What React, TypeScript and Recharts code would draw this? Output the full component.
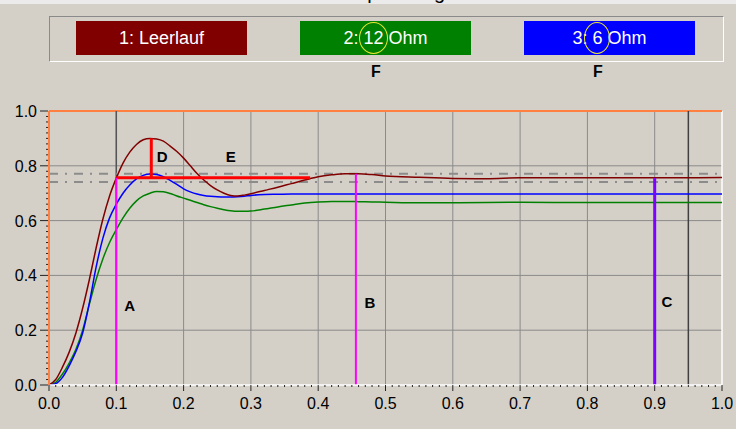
import { LineChart, Line, XAxis, YAxis, CartesianGrid, ReferenceLine, ReferenceDot } from "recharts";

// Zeitachse (s) und Sprungantworten
const time = [
  0, 0.01, 0.02, 0.03, 0.04, 0.05, 0.06, 0.07, 0.08, 0.09, 0.1, 0.11, 0.12, 0.13, 0.14, 0.15, 0.16, 0.17, 0.18, 0.19,
  0.2, 0.21, 0.22, 0.23, 0.24, 0.25, 0.26, 0.27, 0.28, 0.29, 0.3, 0.32, 0.34, 0.36, 0.38, 0.4, 0.42, 0.44, 0.46, 0.48,
  0.5, 0.55, 0.6, 0.65, 0.7, 0.8, 0.9, 1.0,
];
const leerlauf = [
  0, 0.02, 0.065, 0.12, 0.19, 0.28, 0.385, 0.5, 0.605, 0.69, 0.755, 0.81, 0.85, 0.878, 0.895, 0.9, 0.898, 0.89, 0.872, 0.852,
  0.828, 0.8, 0.772, 0.748, 0.728, 0.712, 0.7, 0.692, 0.69, 0.693, 0.698, 0.71, 0.722, 0.735, 0.748, 0.76, 0.767, 0.771, 0.771, 0.768,
  0.763, 0.758, 0.754, 0.753, 0.756, 0.756, 0.756, 0.757,
];
const ohm12 = [
  0, 0.01, 0.04, 0.08, 0.13, 0.2, 0.295, 0.385, 0.46, 0.52, 0.567, 0.61, 0.645, 0.672, 0.69, 0.7, 0.706, 0.705, 0.699, 0.69,
  0.682, 0.674, 0.666, 0.658, 0.651, 0.645, 0.64, 0.636, 0.634, 0.634, 0.635, 0.642, 0.65, 0.657, 0.664, 0.668, 0.67, 0.67, 0.669, 0.668,
  0.667, 0.665, 0.665, 0.666, 0.667, 0.666, 0.666, 0.666,
];
const ohm6 = [
  0, 0.005, 0.028, 0.07, 0.122, 0.19, 0.3, 0.43, 0.535, 0.61, 0.66, 0.7, 0.73, 0.752, 0.765, 0.77, 0.768, 0.76, 0.747, 0.732,
  0.716, 0.705, 0.697, 0.692, 0.689, 0.687, 0.686, 0.686, 0.687, 0.689, 0.692, 0.695, 0.696, 0.697, 0.697, 0.697, 0.697, 0.697, 0.697, 0.697,
  0.697, 0.697, 0.697, 0.697, 0.697, 0.697, 0.697, 0.697,
];

const xGrid = [0.1, 0.2, 0.3, 0.4, 0.5, 0.6, 0.7, 0.8, 0.9];
const yGrid = [0.2, 0.4, 0.6, 0.8];
const xTicks = Array.from({ length: 101 }, (_, i) => i / 100);
const yTicks = Array.from({ length: 51 }, (_, i) => i / 50);

// Messmarken
const steady = 0.756;
const band = [0.771, 0.741];
const peakX = 0.152;
const peakY = 0.9;
const settleEndX = 0.388;
const cursorA = 0.1;
const cursorB = 0.456;
const cursorBTop = 0.771;
const cursorC = 0.9;
const darkCursor = 0.95;
const markLabels = [
  { text: "A", x: 0.12, y: 0.29 },
  { text: "B", x: 0.477, y: 0.3 },
  { text: "C", x: 0.918, y: 0.303 },
  { text: "D", x: 0.168, y: 0.835 },
  { text: "E", x: 0.27, y: 0.832 },
];

const BG = "#d4d0c8";
const FONT = "'Liberation Sans', Arial, sans-serif";

const data = time.map((t, i) => ({ t, r: leerlauf[i], g: ohm12[i], b: ohm6[i] }));

const XTick = (props: any) => {
  const { x, y, payload } = props;
  const v = payload.value;
  const major = Math.round(v * 100) % 10 === 0;
  return (
    <g>
      <line x1={x} x2={x} y1={y} y2={y + (major ? 6 : 2)} stroke="#222" />
      {major && (
        <text x={x} y={y + 24} textAnchor="middle" fontSize={16} fill="#000" fontFamily={FONT}>
          {v.toFixed(1)}
        </text>
      )}
    </g>
  );
};

const YTick = (props: any) => {
  const { x, y, payload } = props;
  const v = payload.value;
  const major = Math.round(v * 50) % 10 === 0;
  return (
    <g>
      <line x1={x - (major ? 9 : 3)} x2={x - 1} y1={y} y2={y} stroke="#222" />
      {major && (
        <text x={x - 12} y={y + 6} textAnchor="end" fontSize={16} fill="#000" fontFamily={FONT}>
          {v.toFixed(1)}
        </text>
      )}
    </g>
  );
};

const Ring = ({ children, w }: { children: any; w: number }) => (
  <span style={{ position: "relative", display: "inline-block" }}>
    {children}
    <span
      style={{
        position: "absolute",
        left: "50%",
        top: "50%",
        width: w,
        height: 30,
        marginLeft: -w / 2 - 1,
        marginTop: -16,
        border: "1.5px solid #e8e830",
        borderRadius: "50%",
      }}
    />
  </span>
);

const boxStyle = (left: number, bg: string): any => ({
  position: "absolute",
  left,
  top: 21,
  width: 171,
  height: 34,
  background: bg,
  color: "#fff",
  fontSize: 18,
  lineHeight: "34px",
  textAlign: "center",
  whiteSpace: "pre",
});

export default function App() {
  return (
    <div style={{ position: "fixed", left: 0, top: 0, width: 736, height: 429, background: BG, fontFamily: FONT, overflow: "hidden" }}>
      <svg width={736} height={5} style={{ position: "absolute", left: 0, top: 0 }}>
        <rect width={736} height={4} fill="#ebebeb" />
        <text x={354} y={-1.5} fontSize={20} fontFamily={FONT} fill="#000">Spannung</text>
      </svg>

      <div
        style={{
          position: "absolute",
          left: 49,
          top: 16,
          width: 673,
          height: 44,
          borderTop: "1px solid #8a8a8a",
          borderLeft: "1px solid #8a8a8a",
          borderBottom: "1px solid #fff",
          borderRight: "1px solid #fff",
        }}
      />
      <div style={boxStyle(76, "#800000")}>1: Leerlauf</div>
      <div style={boxStyle(300, "#008000")}>
        2: <Ring w={27}>12</Ring> Ohm
      </div>
      <div style={boxStyle(524, "#0000ff")}>
        3: <Ring w={24}>6</Ring> Ohm
      </div>
      <div style={{ position: "absolute", left: 366, top: 63, width: 20, textAlign: "center", fontWeight: "bold", fontSize: 16 }}>F</div>
      <div style={{ position: "absolute", left: 588, top: 63, width: 20, textAlign: "center", fontWeight: "bold", fontSize: 16 }}>F</div>

      <div style={{ position: "absolute", left: 0, top: 0 }}>
        <LineChart width={736} height={429} data={data} margin={{ top: 111, right: 14, bottom: 14, left: 0 }}>
          <CartesianGrid stroke="#8a8a8a" horizontalValues={yGrid} verticalValues={xGrid} />
          <XAxis
            dataKey="t"
            type="number"
            domain={[0, 1]}
            ticks={xTicks}
            interval={0}
            tickLine={false}
            tickSize={0}
            tickMargin={0}
            tick={<XTick />}
            axisLine={{ stroke: "#ffffff", strokeWidth: 1.5 }}
            height={30}
          />
          <YAxis
            type="number"
            domain={[0, 1]}
            ticks={yTicks}
            interval={0}
            tickLine={false}
            tickSize={0}
            tickMargin={0}
            tick={<YTick />}
            axisLine={{ stroke: "#ff8040", strokeWidth: 2 }}
            width={49}
          />
          <ReferenceLine x={1} stroke="#ffffff" strokeWidth={1.5} />
          <ReferenceLine y={1} stroke="#ff8040" strokeWidth={2} />
          <ReferenceLine x={cursorA} stroke="#555" strokeWidth={1.5} />
          <ReferenceLine x={darkCursor} stroke="#404040" strokeWidth={1.5} />
          {band.map((v) => (
            <ReferenceLine key={v} y={v} stroke="#8c8c8c" strokeWidth={2} strokeDasharray="9 7 2 7" />
          ))}

          <Line type="monotone" dataKey="g" stroke="#008000" strokeWidth={1.5} dot={false} isAnimationActive={false} />
          <Line type="monotone" dataKey="b" stroke="#0000ff" strokeWidth={1.5} dot={false} isAnimationActive={false} />
          <Line type="monotone" dataKey="r" stroke="#800000" strokeWidth={1.5} dot={false} isAnimationActive={false} />

          <ReferenceLine segment={[{ x: cursorA, y: steady }, { x: settleEndX, y: steady }]} stroke="#ff0000" strokeWidth={3} />
          <ReferenceLine segment={[{ x: peakX, y: steady }, { x: peakX, y: peakY }]} stroke="#ff0000" strokeWidth={3} />
          <ReferenceLine segment={[{ x: cursorA, y: 0 }, { x: cursorA, y: steady }]} stroke="#ff00ff" strokeWidth={2} />
          <ReferenceLine segment={[{ x: cursorB, y: 0 }, { x: cursorB, y: cursorBTop }]} stroke="#ff00ff" strokeWidth={2} />
          <ReferenceLine segment={[{ x: cursorC, y: 0 }, { x: cursorC, y: steady }]} stroke="#8000ff" strokeWidth={3} />

          {markLabels.map((m) => (
            <ReferenceDot
              key={m.text}
              x={m.x}
              y={m.y}
              r={0}
              fill="none"
              stroke="none"
              label={{ value: m.text, position: "center", fill: "#000", fontSize: 15, fontWeight: "bold", fontFamily: FONT }}
            />
          ))}
        </LineChart>
      </div>
    </div>
  );
}
